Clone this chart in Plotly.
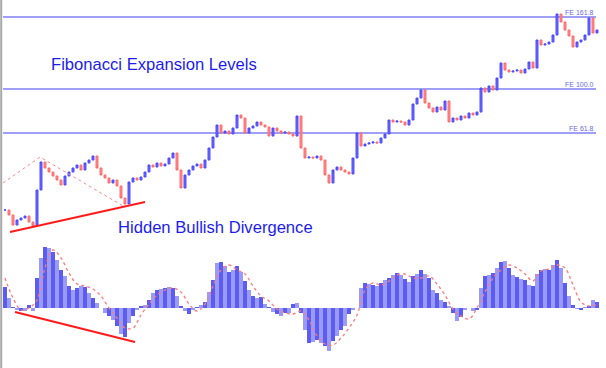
import plotly.graph_objects as go

# ---- price closes (one per bar) ----
close = [30, 25, 15, 20, 22, 24, 18, 14, 50, 78, 72, 68, 64, 60, 55, 64, 68, 72, 75, 70,
         77, 80, 84, 72, 65, 62, 57, 60, 54, 42, 36, 58, 62, 60, 63, 68, 75, 73, 77, 74,
         76, 82, 87, 70, 52, 65, 70, 74, 76, 72, 80, 92, 103, 115, 107, 109, 106, 112, 125, 122,
         107, 112, 114, 118, 115, 113, 104, 112, 109, 107, 108, 106, 104, 124, 92, 82, 83, 82, 84, 80,
         65, 57, 70, 73, 70, 68, 66, 82, 107, 94, 96, 97, 98, 97, 102, 106, 120, 118, 119, 118,
         115, 120, 136, 142, 150, 137, 132, 128, 133, 130, 139, 118, 122, 120, 124, 122, 127, 125, 128, 152,
         148, 154, 150, 162, 177, 170, 168, 169, 170, 167, 171, 178, 172, 200, 195, 196, 198, 205, 226, 218,
         210, 204, 193, 198, 200, 205, 222, 207, 210]

# ---- MACD histogram (one per bar) ----
macd = [21, 10, 1, -2, -3, -3, 3, -3, 30, 50, 61, 60, 56, 48, 38, 32, 22, 18, 20, 22,
        21, 15, 10, 5, 0, -5, -8, -12, -18, -26, -29, -15, -8, -2, 2, 3, 8, 15, 18, 19,
        20, 21, 20, 12, 2, -3, -6, -2, 1, 3, 6, 16, 28, 45, 46, 42, 36, 38, 42, 36,
        27, 18, 12, 10, 11, 4, 1, -4, -6, -8, -5, -5, 4, 5, -5, -22, -35, -34, -32, -35,
        -38, -43, -33, -28, -22, -18, -6, -2, 0, 20, 25, 24, 23, 22, 25, 28, 30, 33, 35, 33,
        29, 26, 32, 34, 38, 34, 30, 18, 15, 8, 6, 2, -5, -13, -9, -2, 0, -3, -2, 20,
        32, 33, 35, 40, 46, 47, 40, 33, 31, 29, 28, 23, 22, 34, 38, 39, 38, 43, 48, 40,
        25, 12, 3, -1, -2, 1, 2, 8, 6]

# ---- MACD signal line (every second bar) ----
signal = [30, 10, -2, 0, 8, 40, 58, 50, 35, 24, 22, 19, 12, 0, -10, -20, -20, -7, 4, 13,
          18, 20, 16, 4, -3, 4, 22, 38, 43, 38, 34, 22, 12, 7, -1, -5, -6, -3, -12, -28,
          -36, -37, -30, -20, -7, 18, 25, 23, 27, 33, 34, 30, 30, 32, 24, 13, -1, -8, -11, 0,
          16, 30, 38, 43, 40, 34, 27, 37, 39, 43, 40, 23, 6, 2, 3]

# ---- Fibonacci expansion levels ----
fe_labels = ["FE 161.8", "FE 100.0", "FE 61.8"]
fe_levels = [223, 151, 107]

# ---- drawn analysis lines (bar index, value) ----
price_trend_idx = [1.25, 35]
price_trend_val = [8, 38]
macd_trend_idx = [2.5, 32.5]
macd_trend_val = [-4, -34]
price_swing_idx = [-0.5, 8.75, 29.5]
price_swing_val = [57, 83, 34]

n = len(close)
idx = list(range(n))
opens = [close[0]] + close[:-1]
highs = [max(o, c) for o, c in zip(opens, close)]
lows = [min(o, c) for o, c in zip(opens, close)]

fig = go.Figure()

# MACD histogram (secondary axis)
bar_colors = ["#5c5cf2" if i % 2 == 0 else "#9a9af8" for i in idx]
fig.add_trace(go.Bar(x=idx, y=macd, yaxis="y2", marker=dict(color=bar_colors, line=dict(width=0)),
                     hoverinfo="skip"))
fig.add_trace(go.Scatter(x=idx[::2], y=signal, yaxis="y2", mode="lines",
                         line=dict(color="#ff7a7a", width=1.3, dash="dot", shape="spline")))
fig.add_trace(go.Scatter(x=macd_trend_idx, y=macd_trend_val, yaxis="y2", mode="lines",
                         line=dict(color="#ff1a1a", width=2)))

# price candles
fig.add_trace(go.Candlestick(x=idx, open=opens, high=highs, low=lows, close=close,
                             increasing=dict(line=dict(color="#4a4aff", width=1), fillcolor="#6a6aff"),
                             decreasing=dict(line=dict(color="#ff6a6a", width=1), fillcolor="#ff8a8a"),
                             whiskerwidth=0))
fig.add_trace(go.Scatter(x=price_trend_idx, y=price_trend_val, mode="lines",
                         line=dict(color="#ff1a1a", width=2)))
fig.add_trace(go.Scatter(x=price_swing_idx, y=price_swing_val, mode="lines",
                         line=dict(color="#ff8a8a", width=1, dash="dot")))

shapes = []
annotations = []
for lab, lv in zip(fe_labels, fe_levels):
    shapes.append(dict(type="line", xref="x", yref="y", x0=-0.5, x1=147.75, y0=lv, y1=lv,
                       line=dict(color="#7f7ff5", width=1.6), layer="below"))
    annotations.append(dict(x=147.75, y=lv, xref="x", yref="y", text=lab, showarrow=False,
                            xanchor="right", yanchor="bottom", yshift=-1,
                            font=dict(family="Liberation Sans, Arial", size=7, color="#6a6ae0")))

shapes.append(dict(type="line", xref="paper", yref="paper", x0=0.002, x1=0.002, y0=0, y1=1,
                   line=dict(color="#a8a8a8", width=2)))

annotations.append(dict(x=49 / 606, y=1 - 64 / 368, xref="paper", yref="paper",
                        text="Fibonacci Expansion Levels", showarrow=False, xanchor="left",
                        yanchor="middle",
                        font=dict(family="Liberation Sans, Arial", size=16.6, color="#1c1cf0")))
annotations.append(dict(x=116 / 606, y=1 - 227 / 368, xref="paper", yref="paper",
                        text="Hidden Bullish Divergence", showarrow=False, xanchor="left",
                        yanchor="middle",
                        font=dict(family="Liberation Sans, Arial", size=16.6, color="#1c1cf0")))

fig.update_layout(
    width=606, height=368,
    margin=dict(l=0, r=0, t=0, b=0),
    paper_bgcolor="white", plot_bgcolor="white",
    showlegend=False,
    bargap=0,
    xaxis=dict(range=[-1.25, 150.25], visible=False, rangeslider=dict(visible=False), fixedrange=True),
    yaxis=dict(range=[-128, 240], visible=False, fixedrange=True),
    yaxis2=dict(range=[-60, 308], visible=False, overlaying="y", fixedrange=True),
    shapes=shapes, annotations=annotations,
)

fig.write_html("out.html", config={"displayModeBar": False},
               post_script="document.body.style.margin='0';document.body.style.overflow='hidden';")
